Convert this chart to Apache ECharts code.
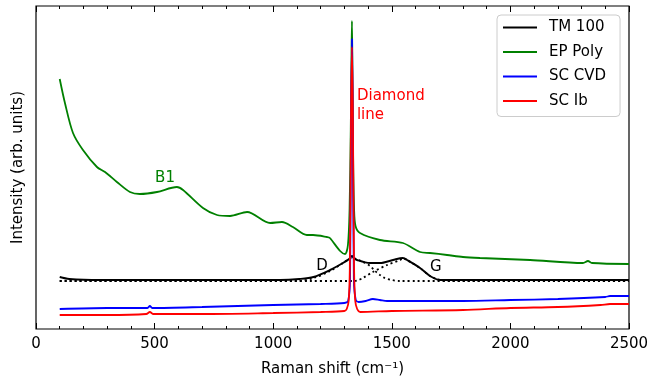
<!DOCTYPE html>
<html>
<head>
<meta charset="utf-8">
<script src="https://cdn.jsdelivr.net/npm/echarts@6/dist/echarts.min.js"></script>
<style>
  html, body { margin: 0; padding: 0; background: #fff; }
  #chart { width: 652px; height: 383px; }
</style>
</head>
<body>
<div id="chart"></div>
<script>
const xTicks = [0, 500, 1000, 1500, 2000, 2500];

// TM 100
const tmShift = [100, 140, 270, 690, 1030, 1110, 1170, 1240, 1294, 1320, 1332, 1340, 1353, 1408, 1450, 1505, 1547, 1564, 1619, 1661, 1703, 2100, 2500];
const tmIntensity = [52, 50, 49, 49, 49, 50, 52, 59, 66, 70, 73, 71, 69, 66, 66, 69, 71, 69, 61, 53, 49, 49, 49];

// EP Poly
const epShift = [100, 122, 156, 198, 257, 291, 341, 396, 438, 510, 594, 620, 704, 763, 818, 890, 987, 1037, 1083, 1142, 1168, 1227, 1239, 1282, 1303, 1315, 1322, 1327, 1330, 1332, 1334, 1337, 1341, 1347, 1366, 1450, 1547, 1619, 1661, 1733, 1800, 1872, 2083, 2306, 2327, 2344, 2500];
const epIntensity = [250, 226, 196, 179, 162, 157, 147, 137, 135, 137, 142, 139, 121, 114, 113, 117, 106, 107, 102, 94, 94, 92, 91, 78, 75, 84, 120, 200, 270, 308, 260, 170, 120, 103, 96, 89, 86, 77, 76, 74, 72, 71, 69, 66, 68, 66, 65];

// SC CVD
const cvdShift = [100, 300, 470, 480, 490, 700, 1000, 1200, 1300, 1316, 1324, 1328, 1332, 1336, 1340, 1348, 1360, 1390, 1420, 1450, 1480, 1600, 1800, 2000, 2200, 2400, 2420, 2500];
const cvdIntensity = [20, 21, 21, 23, 21, 22, 24, 25, 26, 28, 50, 200, 290, 200, 50, 29, 27, 28, 30, 29, 28, 28, 28, 29, 30, 32, 33, 33];

// SC Ib
const ibShift = [100, 300, 465, 480, 495, 700, 1000, 1200, 1300, 1310, 1318, 1323, 1328, 1332, 1336, 1341, 1346, 1354, 1367, 1500, 1800, 2000, 2200, 2380, 2420, 2500];
const ibIntensity = [14, 14, 15, 17, 15, 15, 16, 17, 18, 20, 28, 60, 210, 282, 210, 60, 28, 20, 17, 18, 19, 21, 22, 24, 25, 25];

// dotted D / G band fits for TM 100
const dFitShift = [100, 1100, 1170, 1240, 1294, 1332, 1350, 1380, 1408, 1430, 1450, 1470, 1500, 1530, 2500];
const dFitIntensity = [48, 48, 51, 58, 66, 71, 70, 67, 63, 58, 54, 51, 49, 48, 48];
const gFitShift = [100, 1340, 1360, 1378, 1420, 1480, 1535, 1547, 1564, 1619, 1661, 1703, 1740, 2500];
const gFitIntensity = [48, 48, 49, 51, 57, 64, 69, 71, 69, 61, 53, 49, 48, 48];

// annotations: [shift, intensity, text, colour, align]
const notes = [
  [544, 151, 'B1', '#008000', 'center'],
  [1353, 223, 'Diamond\nline', '#ff0000', 'left'],
  [1206, 63, 'D', '#000', 'center'],
  [1686, 62, 'G', '#000', 'center']
];

const pairs = (xs, ys) => xs.map((x, i) => [x, ys[i]]);
const font = 'DejaVu Sans';
const lineIcon = 'path://M0,0 L34,0 L34,2.2 L0,2.2 Z';

const chart = echarts.init(document.getElementById('chart'));
chart.setOption({
  animation: false,
  backgroundColor: '#fff',
  grid: { left: 36, right: 23, top: 6, bottom: 54, show: true, borderColor: '#000', borderWidth: 1.2, backgroundColor: 'transparent' },
  legend: {
    data: [
      { name: 'TM 100', icon: lineIcon },
      { name: 'EP Poly', icon: lineIcon },
      { name: 'SC CVD', icon: lineIcon },
      { name: 'SC Ib', icon: lineIcon }
    ],
    orient: 'vertical',
    left: 497,
    top: 15,
    padding: [5, 14, 8, 6],
    itemGap: 9.5,
    itemWidth: 34,
    itemHeight: 14,
    borderColor: '#ccc',
    borderWidth: 1,
    borderRadius: 4,
    backgroundColor: 'rgba(255,255,255,0.85)',
    textStyle: { fontFamily: font, fontSize: 15, color: '#000', padding: [0, 0, 0, 7] }
  },
  xAxis: [
    {
      type: 'value', min: xTicks[0], max: xTicks[xTicks.length - 1], interval: 500,
      name: 'Raman shift (cm\u207B\u00B9)', nameLocation: 'middle', nameGap: 33,
      nameTextStyle: { fontFamily: font, fontSize: 15, color: '#000' },
      axisLine: { show: false },
      axisTick: { inside: true, length: 6, lineStyle: { color: '#000', width: 1 } },
      minorTick: { show: true, splitNumber: 5, length: 3, lineStyle: { color: '#000', width: 1 } },
      axisLabel: { fontFamily: font, fontSize: 15, color: '#000', margin: 8, formatter: (v) => String(v) },
      splitLine: { show: false }
    },
    {
      type: 'value', position: 'top', min: xTicks[0], max: xTicks[xTicks.length - 1], interval: 500,
      axisLine: { show: false },
      axisTick: { inside: true, length: 6, lineStyle: { color: '#000', width: 1 } },
      minorTick: { show: true, splitNumber: 5, length: 3, lineStyle: { color: '#000', width: 1 } },
      axisLabel: { show: false },
      splitLine: { show: false }
    }
  ],
  yAxis: {
    type: 'value', min: 0, max: 323,
    name: 'Intensity (arb. units)', nameLocation: 'middle', nameGap: 10,
    nameTextStyle: { fontFamily: font, fontSize: 15, color: '#000' },
    axisLine: { show: false }, axisTick: { show: false }, axisLabel: { show: false },
    splitLine: { show: false }
  },
  series: [
    {
      name: 'D fit', type: 'line', data: pairs(dFitShift, dFitIntensity), symbol: 'none',
      smooth: 0.3,
      lineStyle: { color: '#000', width: 1.8, type: [2, 3] }, z: 1
    },
    {
      name: 'G fit', type: 'line', data: pairs(gFitShift, gFitIntensity), symbol: 'none',
      smooth: 0.3,
      lineStyle: { color: '#000', width: 1.8, type: [2, 3] }, z: 1
    },
    {
      name: 'TM 100', type: 'line', data: pairs(tmShift, tmIntensity), symbol: 'none',
      smooth: 0.3, color: '#000',
      lineStyle: { color: '#000', width: 2 }, z: 2
    },
    {
      name: 'EP Poly', type: 'line', data: pairs(epShift, epIntensity), symbol: 'none',
      smooth: 0.3, color: '#008000',
      lineStyle: { color: '#008000', width: 1.8 }, z: 3
    },
    {
      name: 'SC CVD', type: 'line', data: pairs(cvdShift, cvdIntensity), symbol: 'none',
      smooth: 0.3, color: '#0000ff',
      lineStyle: { color: '#0000ff', width: 1.8 }, z: 4
    },
    {
      name: 'SC Ib', type: 'line', data: pairs(ibShift, ibIntensity), symbol: 'none',
      smooth: 0.3, color: '#ff0000',
      lineStyle: { color: '#ff0000', width: 1.8 }, z: 5
    },
    {
      name: 'notes', type: 'scatter', silent: true, symbolSize: 1, z: 6,
      itemStyle: { color: 'rgba(0,0,0,0)' },
      data: notes.map((n) => ({
        value: [n[0], n[1]],
        label: {
          show: true,
          position: 'inside',
          formatter: n[2],
          color: n[3],
          align: n[4],
          verticalAlign: 'middle',
          fontFamily: font,
          fontSize: 15,
          lineHeight: 19,
          textBorderWidth: 0,
          opacity: 1
        }
      }))
    }
  ]
});
</script>
</body>
</html>
